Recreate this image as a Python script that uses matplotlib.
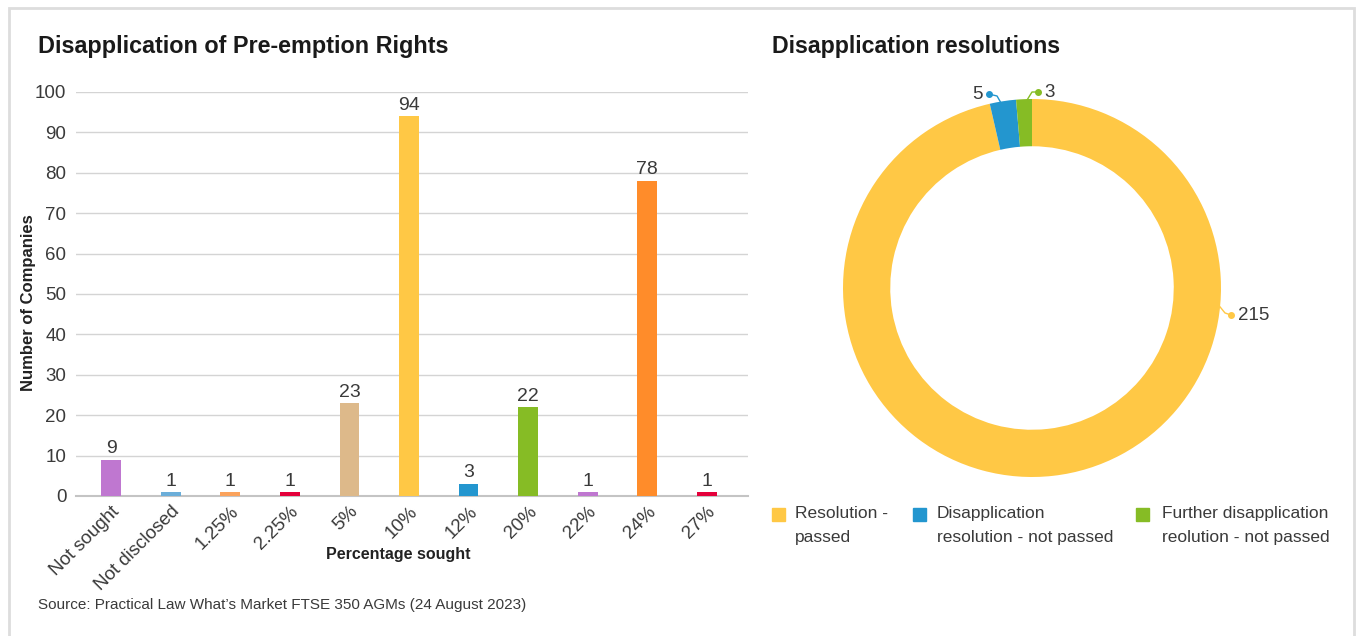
import numpy as np
import matplotlib
matplotlib.use("Agg")
import matplotlib.pyplot as plt
from matplotlib.patches import Rectangle

plt.rcParams['font.family'] = ['Liberation Sans', 'DejaVu Sans']

# bar chart data
categories = ['Not sought', 'Not disclosed', '1.25%', '2.25%', '5%', '10%',
              '12%', '20%', '22%', '24%', '27%']
companies = [9, 1, 1, 1, 23, 94, 3, 22, 1, 78, 1]
bar_colors = ['#BF77D0', '#6BAED9', '#FBA35C', '#E4003B', '#DDB98A', '#FFC845',
              '#2396CF', '#86BC25', '#BF77D0', '#FF8C2A', '#E4003B']
y_ticks = [0, 10, 20, 30, 40, 50, 60, 70, 80, 90, 100]

# donut data
res_labels = ['Resolution -\npassed', 'Disapplication\nresolution - not passed',
              'Further disapplication\nreolution - not passed']
res_values = [215, 5, 3]
res_colors = ['#FFC845', '#2396CF', '#86BC25']

W, H = 1363, 636
fig = plt.figure(figsize=(W / 100, H / 100), dpi=100)
txt = '#3a3a3a'

# frame round the whole card
fig.patches.append(Rectangle((9 / W, -0.05), 1345 / W, 1.05 - 8 / H,
                             transform=fig.transFigure, fill=False,
                             edgecolor='#dddddd', linewidth=2))

# ---- bar chart ----
ax = fig.add_axes([76 / W, (H - 496) / H, 672 / W, 404 / H])
x = np.arange(len(categories))
ax.bar(x, companies, width=0.33, color=bar_colors, zorder=3)
for xi, v in zip(x, companies):
    ax.text(xi, v + 0.6, str(v), ha='center', va='bottom', fontsize=14, color=txt)
ax.set_xlim(-0.59, 10.69)
ax.set_ylim(0, 100)
ax.set_yticks(y_ticks)
ax.grid(axis='y', color='#d4d4d4', linewidth=1, zorder=0)
for s in ['top', 'right', 'left']:
    ax.spines[s].set_visible(False)
ax.spines['bottom'].set_color('#c4c4c4')
ax.spines['bottom'].set_linewidth(1.5)
ax.tick_params(axis='both', length=0, labelsize=13.5, labelcolor=txt)
ax.tick_params(axis='y', pad=7)
ax.set_xticks(x)
ax.set_xticklabels(categories, rotation=45, ha='right', rotation_mode='anchor')
ax.tick_params(axis='x', pad=5)
ax.set_xlabel('Percentage sought', fontsize=11.5, fontweight='bold', color='#222222')
ax.xaxis.set_label_coords((398 - 76) / 672, -(555 - 496) / 404)
ax.xaxis.label.set_va('center')
ax.set_ylabel('Number of Companies', fontsize=12, fontweight='bold', color='#222222')
ax.yaxis.set_label_coords(-(76 - 29) / 672, (496 - 303) / 404)
ax.yaxis.label.set_va('center')

fig.text(38 / W, 1 - 46 / H, 'Disapplication of Pre-emption Rights', fontsize=16.8,
         fontweight='bold', color='#1a1a1a', va='center')
fig.text(38 / W, 1 - 605 / H, "Source: Practical Law What\u2019s Market FTSE 350 AGMs (24 August 2023)",
         fontsize=11, color=txt, va='center')

# ---- donut ----
fig.text(772 / W, 1 - 46 / H, 'Disapplication resolutions', fontsize=16.7,
         fontweight='bold', color='#1a1a1a', va='center')
r = 189
axp = fig.add_axes([(1032 - r) / W, (H - 288 - r) / H, 2 * r / W, 2 * r / H])
wedges, _ = axp.pie(res_values, colors=res_colors, startangle=90, counterclock=False,
                    radius=1, wedgeprops=dict(width=0.25, edgecolor='none'))
axp.set_xlim(-1, 1)
axp.set_ylim(-1, 1)
axp.set_aspect('equal')
axp.axis('off')

# leader lines: start on ring, elbow, dot (ring radius units)
leaders = [[(0.995, -0.10), (1.021, -0.132), (1.053, -0.143)],
           [(-0.164, 0.979), (-0.185, 1.016), (-0.228, 1.026)],
           [(-0.026, 0.995), (0.0, 1.037), (0.032, 1.037)]]
for v, c, path in zip(res_values, res_colors, leaders):
    xs, ys = zip(*path)
    axp.plot(xs, ys, color=c, linewidth=1, clip_on=False)
    dx, dy = path[-1]
    axp.plot(dx, dy, 'o', color=c, markersize=4, clip_on=False)
    if dx < 0:
        axp.text(dx - 0.035, dy, str(v), ha='right', va='center', fontsize=13.5, color=txt)
    else:
        axp.text(dx + 0.035, dy, str(v), ha='left', va='center', fontsize=13.5, color=txt)

# legend drawn by hand to keep squares on the top line
leg_sq_x = [772, 913, 1136]
leg_txt_x = [795, 937, 1162]
for lab, c, sx, tx in zip(res_labels, res_colors, leg_sq_x, leg_txt_x):
    fig.patches.append(Rectangle((sx / W, 1 - 521 / H), 13 / W, 13 / H,
                                 transform=fig.transFigure, color=c))
    fig.text(tx / W, 1 - 506 / H, lab, fontsize=12.5, color=txt, va='top',
             linespacing=1.75)

fig.savefig('out.png', dpi=100, facecolor='white')
